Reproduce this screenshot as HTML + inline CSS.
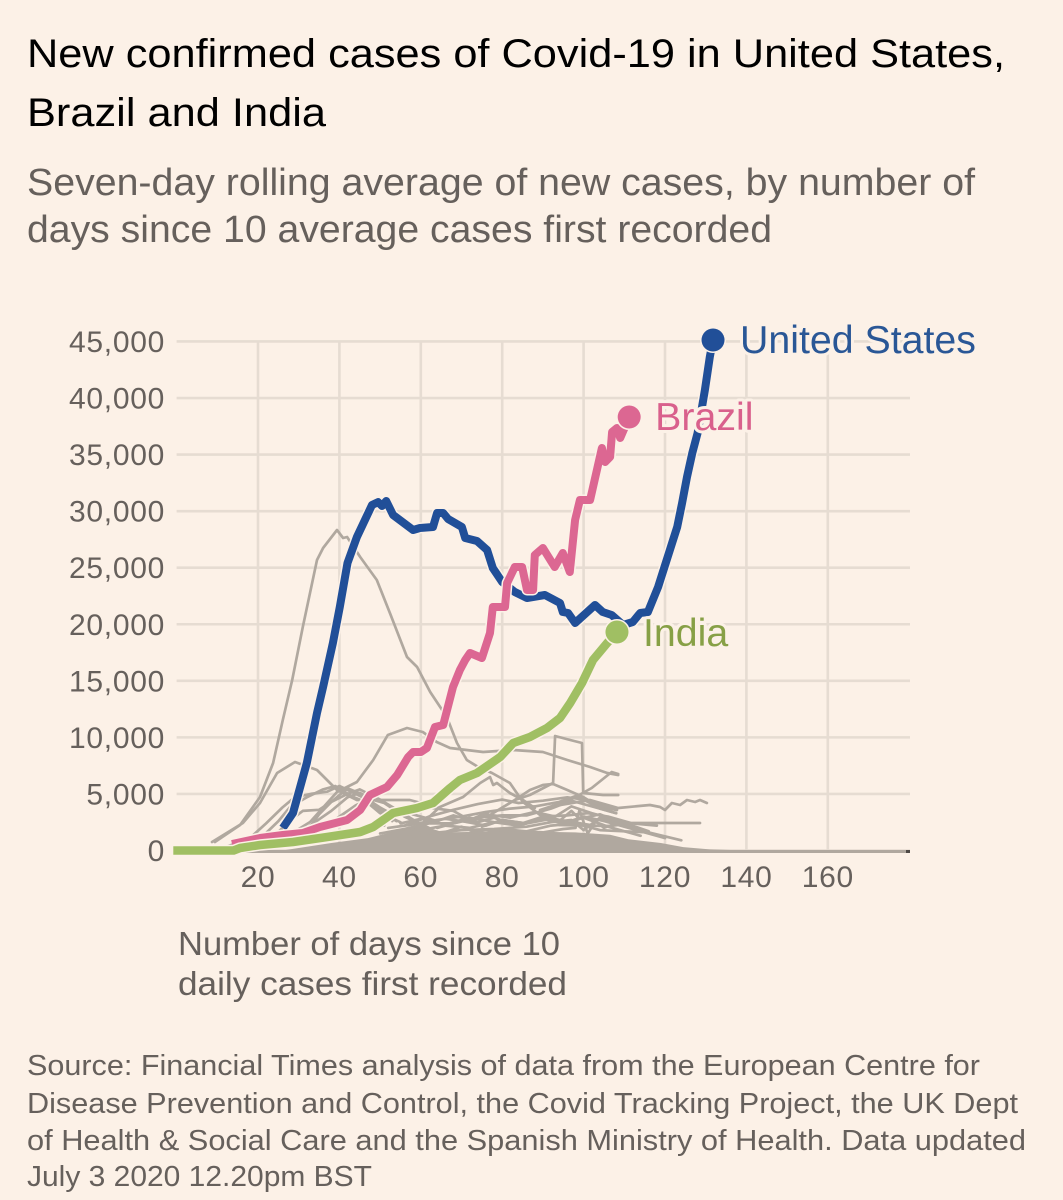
<!DOCTYPE html>
<html lang="en">
<head>
<meta charset="utf-8">
<title>New confirmed cases of Covid-19</title>
<style>
html,body{margin:0;padding:0;background:#fcf1e7;}
svg{display:block;}
text{font-family:"Liberation Sans",Arial,sans-serif;}
</style>
</head>
<body>
<svg id="chart" width="1063" height="1200" viewBox="0 0 1063 1200" xmlns="http://www.w3.org/2000/svg">
<rect x="0" y="0" width="1063" height="1200" fill="#fcf1e7"/>
<g fill="#000" font-size="40">
<text x="27" y="67" textLength="978" lengthAdjust="spacingAndGlyphs">New confirmed cases of Covid-19 in United States,</text>
<text x="27" y="126" textLength="299" lengthAdjust="spacingAndGlyphs">Brazil and India</text>
</g>
<g fill="#66605c" font-size="38">
<text x="27" y="195" textLength="948" lengthAdjust="spacingAndGlyphs">Seven-day rolling average of new cases, by number of</text>
<text x="27" y="242" textLength="745" lengthAdjust="spacingAndGlyphs">days since 10 average cases first recorded</text>
</g>
<g id="grid"></g>
<g id="grey-lines"></g>
<g id="series"></g>
<g id="ticks"></g>
<g fill="#66605c" font-size="33">
<text x="178" y="955" textLength="382" lengthAdjust="spacingAndGlyphs">Number of days since 10</text>
<text x="178" y="995" textLength="389" lengthAdjust="spacingAndGlyphs">daily cases first recorded</text>
</g>
<g fill="#66605c" font-size="29">
<text x="27" y="1075" textLength="953" lengthAdjust="spacingAndGlyphs">Source: Financial Times analysis of data from the European Centre for</text>
<text x="27" y="1113" textLength="991" lengthAdjust="spacingAndGlyphs">Disease Prevention and Control, the Covid Tracking Project, the UK Dept</text>
<text x="27" y="1150" textLength="999" lengthAdjust="spacingAndGlyphs">of Health &amp; Social Care and the Spanish Ministry of Health. Data updated</text>
<text x="27" y="1186" textLength="345" lengthAdjust="spacingAndGlyphs">July 3 2020 12.20pm BST</text>
</g>
</svg>
<script>
const xTicks = [20, 40, 60, 80, 100, 120, 140, 160];
const yTicks = [0, 5000, 10000, 15000, 20000, 25000, 30000, 35000, 40000, 45000];
const yTickLabels = ["0", "5,000", "10,000", "15,000", "20,000", "25,000", "30,000", "35,000", "40,000", "45,000"];
const seriesNames = ["United States", "Brazil", "India"];

const usDays = [26.1,28.6,32,34.5,36,38.4,40.1,42,44.3,48,49.5,50.5,51.5,53.2,58.1,59.8,63,64,65.5,66.7,70.1,70.9,73.8,76.3,77.7,80,83.1,86.1,90.5,94.2,94.9,96.2,97.9,102.8,104.7,106.9,109.7,112.1,113.9,115.8,118.3,123,124.2,125.4,126.7,128,129.8,131,131.8];
const usValues = [1990,3315,7735,12155,14450,18345,21530,25415,27715,30540,30800,30450,30900,29660,28330,28510,28600,29835,29835,29305,28600,27625,27360,26565,24970,23735,22850,22320,22590,21880,21080,20995,20110,21700,21080,20820,19935,20200,20995,21080,23295,28600,30720,33020,35140,36910,40710,43625,45130];

const brazilDays = [13.6,20.5,26.1,31,35.2,41.9,45.1,47.5,51.7,54.2,56.9,58.1,60,61.5,63.5,65.5,67.9,69.6,70.9,72.1,75,77,77.7,80.7,81.2,83.1,84.9,86.1,87.6,88,90,92.9,94.9,96.6,97.9,99.1,101.6,104.5,105.3,106.5,107,108.2,109,111.2];
const brazilValues = [575,1105,1370,1547,2077,2696,3580,4906,5613,6674,8265,8707,8707,9061,10917,11094,14453,15956,16840,17460,17017,19227,21525,21525,23647,25061,25061,23028,23028,26122,26741,25061,26299,24619,29216,30984,30984,35581,34343,34785,36995,37349,36465,38320];

const indiaDays = [-0.8,14,15.6,20.5,28.6,37,45.1,48.3,53.2,59.1,63,67.2,69.6,73.8,79.5,82.7,86.8,91,94.2,96.7,99.6,102.3,105.8,108.2];
const indiaValues = [0,0,220,486,751,1193,1635,2077,3315,3757,4200,5525,6232,6851,8265,9503,10034,10829,11713,13039,14807,16840,18343,19315];

const greyDays = [
[9.4,15.6,20.5,23.7,26.1,28.4,31,34.5,36,39.4,40.9,41.9,45.1,49.2,52.4,56.6,59.1,62.3,66.4,68.9,71.3,74.1,77.5,81.9,85.1,89.3,94.2,101.6],
[26,32.8,39.4,44.3,48.3,51.9,56.6,60.5,63.9,67.2,75.3,82.7,90,96,101.6,105.8,108.5],
[8.7,16.3,20.5,24.7,29.1,34.5,39.4,44.3,50,57.3,64.7],
[83.1,86.8,92.5,93,96.7,99.6,99.9,104.8,108.5],
[89.3,96.7,102,106.9,108.5],
[94.2,101.6,108.5,116.3,118.8,120,121.7,123.7,125.4,127.4,128.6,130.3],
[94,106.5,112.1,128.6],
[57.3,64.7,70.4,74.6,77,77.8,78.7,81.9,85.1,88],
[77,83.1,86.8,90,92.5,96,99.9,104,108.2],
[12,18,22,26,29,33,37,40,44,48,52],
[15,21,25,28,32,36,39,43,47,50,55],
[18,24,28,31,35,38,42,46,50,54],
[22,28,32,35,38,42,45,50,56,60],
[26,30,34,38,42,45,48,51,56,62],
[30,35,40,44,47,50,53],
[44,46,47,48,49,50,51,52,53],
[56,62,68,74,80,84,90,96,100,104,108],
[52,58,64,70,76,82,88,94,98,102,108],
[50,56,62,68,74,80,86,92,97,103,108],
[60,66,72,78,84,90,96,101,106,112,118],
[54,62,70,78,86,92,97,100,104,110],
[70,76,84,90,95,98,99,100,101,103,105,108,114],
[60,65,70,75,80,86,92,98,104,110,116,124],
[58,64,68,74,78,84],
[62,68,72,76,80,84],
[64,70,76,80,86,92,96,100,105,112,120],
[55,60,66,72,78,84,90,95,100,106,114],
[66,72,76,82,88,93,97,102,108,116],
[75,80,86,90,94,97,99,104,110]
];
const greyValues = [
[750,2254,4730,7735,11536,15072,19757,25680,26740,28330,27625,27715,25945,23912,20995,17105,16221,14011,11800,9503,8000,7381,6851,5967,4287,3138,2696,2254],
[1000,2519,5171,6055,8000,10210,10829,10475,9591,9061,8707,8884,8707,8000,7381,6851,6674],
[750,2431,4200,6851,7823,7116,5348,4464,4464,4464,3757],
[4464,4906,5967,10122,9768,9503,5083,4906,4906],
[3580,4464,5525,6939,6763],
[4022,4464,3757,4022,3846,3580,4199,4022,4464,4287,4464,4199],
[2254,2166,2431,2431],
[1370,3846,4729,5967,6497,5790,5967,5083,4464,3757],
[3138,4464,5348,5790,5878,5348,4729,3846,3580],
[300,1100,2400,3800,4700,5000,5200,5700,5000,4300,3000],
[300,1200,2600,3900,4700,5400,5700,4800,4200,3300,2500],
[400,1300,2700,3500,3600,4300,5500,4900,3500,2600],
[300,800,1700,3200,4300,5000,5400,4500,3200,2300],
[500,1500,2500,3500,4700,5100,4500,4200,3000,2000],
[700,1700,3000,4000,4500,3800,3200],
[1400,2000,1600,2400,1800,2900,2200,3300,2600],
[2200,3000,3600,4100,4500,4200,4400,4700,4500,3700,3300],
[2000,2300,2700,3000,3400,3700,3900,4300,4800,4300,3600],
[1500,1900,2400,2400,2900,3100,3100,3700,4400,3800,3300],
[1800,2200,2000,2500,2300,3000,3100,3300,3000,2400,2200],
[1000,1500,1800,1900,2100,2500,2700,1800,2900,2200],
[1400,1800,1700,1600,1900,2000,3600,2500,1500,2600,2000,2400,1800],
[1600,1500,2100,1400,1900,1700,2200,2400,1800,1700,1600,900],
[3200,2600,3100,2500,2900,2100],
[3800,3500,2700,3300,2600,2200],
[2000,2600,2200,2700,2400,2800,2500,3000,2600,1900,1100],
[2400,2800,2300,2900,2500,2200,2800,2400,2900,2100,1300],
[2800,2500,3200,2900,3400,3000,3900,3300,2700,1700],
[2100,2700,2400,3000,2600,3500,2800,3200,2300]
];

const massDays = [26,38,47,55,60,65.5,82,98,106.5,111,119,124.5,131,140];
const massValues = [0,660,1100,1800,2250,1600,1700,1600,1400,1000,660,300,100,0];

const NS = "http://www.w3.org/2000/svg";
const BG = "#fcf1e7";
const GRID = "#e6dcd2";
const GREY = "#b0a89f";
const TICK_TEXT = "#66605c";
const xScale = d => 176.6 + 4.07 * d;
const yScale = v => 850.5 - v * 0.011312;
const xMax = 910;

function make(tag, parent, props) {
  const el = document.createElementNS(NS, tag);
  for (const k in props) el.setAttribute(k, props[k]);
  parent.appendChild(el);
  return el;
}
function linePath(days, values) {
  return days.map((d, i) => (i ? "L" : "M") + xScale(d).toFixed(1) + " " + yScale(values[i]).toFixed(1)).join("");
}

const gridG = document.getElementById("grid");
yTicks.forEach(v => {
  const l = make("line", gridG, {x1: xScale(0), x2: xMax, y1: yScale(v), y2: yScale(v), stroke: GRID, "stroke-width": 2.6});
  
  
});
xTicks.forEach(d => {
  const l = make("line", gridG, {x1: xScale(d), x2: xScale(d), y1: yScale(45000), y2: yScale(0), stroke: GRID, "stroke-width": 2.6});
  
  
});

const greyG = document.getElementById("grey-lines");
const massPath = linePath(massDays, massValues) + "L" + xScale(massDays[massDays.length - 1]) + " " + (yScale(0) + 2.5) + "L" + xScale(massDays[0]) + " " + (yScale(0) + 2.5) + "Z";
const mass = make("path", greyG, {d: massPath, fill: GREY, stroke: "none"});


greyDays.forEach((days, i) => {
  const p = make("path", greyG, {d: linePath(days, greyValues[i]), fill: "none", stroke: GREY, "stroke-width": 2.7, "stroke-linejoin": "round", "stroke-linecap": "round"});
  
  
});
const base = make("line", greyG, {x1: xScale(0), x2: xMax, y1: yScale(0) + 1, y2: yScale(0) + 1, stroke: GREY, "stroke-width": 3});


const baseEnd = make("line", greyG, {x1: xMax - 4, x2: xMax, y1: yScale(0) + 1, y2: yScale(0) + 1, stroke: "#4d4845", "stroke-width": 3});



const seriesG = document.getElementById("series");
function drawLine(days, values, color, width, name) {
  const halo = make("path", seriesG, {d: linePath(days, values), fill: "none", stroke: BG, "stroke-width": width + 3, "stroke-linejoin": "round"});
  
  
  const p = make("path", seriesG, {d: linePath(days, values), fill: "none", stroke: color, "stroke-width": width, "stroke-linejoin": "round"});
  
  
}
function drawEnd(days, values, color, textColor, label, dx, dy, name) {
  const cx = xScale(days[days.length - 1]);
  const cy = yScale(values[values.length - 1]);
  const c = make("circle", seriesG, {cx: cx, cy: cy, r: 11.5, fill: color, stroke: BG, "stroke-width": 3, "paint-order": "stroke"});
  
  
  const t = make("text", seriesG, {x: cx + dx, y: cy + dy, fill: textColor, "font-size": 39.3, stroke: BG, "stroke-width": 6, "paint-order": "stroke", "stroke-linejoin": "round"});
  t.textContent = label;
  
  
}
drawLine(usDays, usValues, "#214f98", 8, "united-states");
drawLine(brazilDays, brazilValues, "#dc6792", 8, "brazil");
drawLine(indiaDays, indiaValues, "#a0bf63", 8.5, "india");
drawEnd(usDays, usValues, "#214f98", "#2a5796", seriesNames[0], 27, 13, "united-states");
drawEnd(brazilDays, brazilValues, "#dc6792", "#d9608c", seriesNames[1], 26, 13, "brazil");
drawEnd(indiaDays, indiaValues, "#a0bf63", "#87a046", seriesNames[2], 26, 14, "india");

const tickG = document.getElementById("ticks");
yTicks.forEach((v, i) => {
  const t = make("text", tickG, {x: 165, y: yScale(v) + 10.5, "text-anchor": "end", fill: TICK_TEXT, "font-size": 30, "letter-spacing": 0.7});
  t.textContent = yTickLabels[i];
  
  
});
xTicks.forEach(d => {
  const t = make("text", tickG, {x: xScale(d), y: 887, "text-anchor": "middle", fill: TICK_TEXT, "font-size": 30, "letter-spacing": 0.7});
  t.textContent = String(d);
  
  
});
</script>
</body>
</html>
